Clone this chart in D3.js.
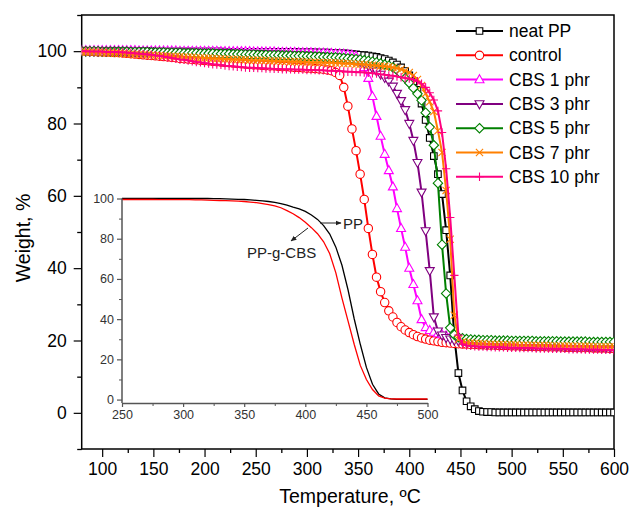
<!DOCTYPE html>
<html><head><meta charset="utf-8">
<script src="https://cdn.jsdelivr.net/npm/d3@7"></script>
<style>body{margin:0;background:#fff}svg{display:block}text{font-family:"Liberation Sans",Arial,sans-serif}</style>
</head><body><svg id="c" width="633" height="508"></svg>
<script>
// ---------- main chart data ----------
const temps = [80,84,88,92,96,100,104,108,112,116,
120,124,128,132,136,140,144,148,152,156,
160,164,168,172,176,180,184,188,192,196,
200,204,208,212,216,220,224,228,232,236,
240,244,248,252,256,260,264,268,272,276,
280,284,288,292,296,300,304,308,312,316,
320,324,328,332,336,340,344,348,352,356,
360,364,368,372,376,380,384,388,392,396,
400,404,408,412,416,420,424,428,432,436,
440,444,448,452,456,460,464,468,472,476,
480,484,488,492,496,500,504,508,512,516,
520,524,528,532,536,540,544,548,552,556,
560,564,568,572,576,580,584,588,592,596,
600];
const neatPP = [100.0,100.0,100.0,100.0,100.0,100.0,100.0,100.0,100.0,100.0,
100.0,100.0,100.0,100.0,100.0,100.0,100.0,100.0,99.9,99.9,
99.9,99.9,99.9,99.9,99.9,99.9,99.9,99.9,99.9,99.9,
99.9,99.9,99.9,99.9,99.9,99.8,99.8,99.8,99.8,99.8,
99.8,99.8,99.8,99.8,99.8,99.8,99.8,99.8,99.8,99.8,
99.8,99.8,99.8,99.7,99.7,99.7,99.7,99.7,99.6,99.6,
99.6,99.5,99.5,99.4,99.4,99.3,99.2,99.1,99.0,98.9,
98.8,98.6,98.4,98.1,97.8,97.4,96.9,96.3,95.5,94.5,
93.3,91.6,89.3,85.5,81.0,76.0,71.0,66.0,60.5,50.5,
38.0,21.0,11.0,6.2,3.2,1.8,1.0,0.5,0.3,0.2,
0.2,0.1,0.1,0.1,0.1,0.1,0.1,0.1,0.1,0.1,
0.1,0.1,0.1,0.1,0.1,0.1,0.1,0.1,0.1,0.1,
0.1,0.1,0.1,0.1,0.1,0.1,0.1,0.1,0.1,0.1,
0.1];
const control = [100.0,100.0,99.9,99.9,99.8,99.8,99.7,99.7,99.6,99.6,
99.5,99.4,99.3,99.2,99.1,99.0,98.9,98.8,98.7,98.6,
98.5,98.4,98.3,98.2,98.0,97.9,97.8,97.7,97.6,97.5,
97.4,97.3,97.2,97.1,97.0,96.9,96.8,96.7,96.6,96.5,
96.4,96.3,96.2,96.2,96.1,96.0,95.9,95.9,95.8,95.7,
95.7,95.6,95.5,95.5,95.4,95.3,95.3,95.2,95.1,95.0,
94.8,94.6,94.1,93.3,90.0,84.8,78.5,72.5,66.0,59.0,
51.0,43.8,37.5,33.5,30.5,28.2,26.5,25.0,23.8,22.9,
22.2,21.6,21.1,20.7,20.4,20.1,19.9,19.7,19.5,19.4,
19.3,19.2,19.1,19.0,19.0,18.9,18.9,18.8,18.8,18.7,
18.7,18.7,18.6,18.6,18.6,18.5,18.5,18.5,18.4,18.4,
18.4,18.3,18.3,18.3,18.2,18.2,18.2,18.2,18.1,18.1,
18.1,18.0,18.0,18.0,18.0,17.9,17.9,17.9,17.9,17.8,
17.8];
const cbs1 = [100.2,100.2,100.2,100.2,100.2,100.2,100.2,100.2,100.2,100.2,
100.2,100.2,100.2,100.2,100.1,100.1,100.1,100.1,100.1,100.1,
100.1,100.1,100.1,100.1,100.0,100.0,100.0,100.0,100.0,100.0,
100.0,100.0,100.0,100.0,99.9,99.9,99.9,99.9,99.9,99.9,
99.9,99.9,99.8,99.8,99.8,99.8,99.8,99.8,99.7,99.7,
99.7,99.7,99.7,99.6,99.6,99.6,99.6,99.5,99.5,99.5,
99.4,99.4,99.3,99.3,99.2,99.1,98.9,98.6,97.5,95.5,
92.5,87.5,82.0,76.5,71.5,67.0,62.5,56.5,51.0,45.8,
40.0,35.5,31.0,25.8,23.6,22.8,22.3,21.9,21.6,21.3,
21.0,20.7,20.4,20.1,19.9,19.7,19.5,19.4,19.3,19.2,
19.1,19.0,19.0,18.9,18.9,18.8,18.8,18.7,18.7,18.7,
18.6,18.6,18.6,18.5,18.5,18.5,18.4,18.4,18.4,18.4,
18.3,18.3,18.3,18.3,18.2,18.2,18.2,18.2,18.2,18.1,
18.1];
const cbs3 = [100.0,100.0,100.0,100.0,100.0,100.0,100.0,100.0,100.0,100.0,
100.0,100.0,99.9,99.9,99.9,99.9,99.9,99.9,99.8,99.8,
99.8,99.8,99.8,99.7,99.7,99.7,99.7,99.7,99.6,99.6,
99.6,99.6,99.6,99.5,99.5,99.5,99.5,99.4,99.4,99.4,
99.4,99.3,99.3,99.3,99.3,99.2,99.2,99.2,99.1,99.1,
99.1,99.0,99.0,98.9,98.9,98.8,98.8,98.7,98.7,98.6,
98.5,98.5,98.4,98.3,98.2,98.1,97.9,97.5,97.1,96.6,
96.0,95.3,94.5,93.6,92.7,91.7,90.3,88.3,86.3,83.8,
80.0,75.3,69.2,61.0,50.3,39.3,26.5,22.6,21.5,20.8,
20.4,20.1,19.9,19.7,19.5,19.4,19.3,19.2,19.1,19.0,
19.0,18.9,18.9,18.8,18.8,18.7,18.7,18.6,18.6,18.6,
18.5,18.5,18.5,18.4,18.4,18.4,18.3,18.3,18.3,18.3,
18.2,18.2,18.2,18.2,18.1,18.1,18.1,18.1,18.0,18.0,
18.0];
const cbs5 = [100.0,100.0,100.0,100.0,100.0,99.9,99.9,99.9,99.9,99.9,
99.9,99.9,99.8,99.8,99.8,99.8,99.8,99.7,99.7,99.7,
99.7,99.6,99.6,99.6,99.6,99.5,99.5,99.5,99.5,99.4,
99.4,99.4,99.4,99.3,99.3,99.3,99.3,99.2,99.2,99.2,
99.1,99.1,99.1,99.0,99.0,99.0,98.9,98.9,98.9,98.8,
98.8,98.8,98.7,98.7,98.7,98.6,98.6,98.5,98.5,98.4,
98.4,98.3,98.3,98.2,98.1,98.0,97.9,97.8,97.7,97.5,
97.3,97.1,96.9,96.6,96.3,96.0,95.5,94.8,93.8,92.5,
91.2,89.8,88.2,86.4,83.0,79.0,74.0,63.5,46.5,33.0,
23.5,21.6,20.9,20.6,20.4,20.3,20.2,20.2,20.1,20.1,
20.1,20.0,20.0,20.0,20.0,19.9,19.9,19.9,19.9,19.9,
19.9,19.8,19.8,19.8,19.8,19.8,19.8,19.7,19.7,19.7,
19.7,19.7,19.7,19.7,19.6,19.6,19.6,19.6,19.6,19.6,
19.6];
const cbs7 = [99.8,99.8,99.7,99.7,99.6,99.6,99.5,99.5,99.4,99.4,
99.3,99.3,99.2,99.1,99.1,99.0,99.0,98.9,98.8,98.8,
98.7,98.7,98.6,98.5,98.5,98.4,98.4,98.3,98.2,98.2,
98.1,98.1,98.0,97.9,97.9,97.8,97.8,97.7,97.7,97.6,
97.6,97.5,97.5,97.5,97.4,97.4,97.3,97.3,97.3,97.2,
97.2,97.1,97.1,97.1,97.0,97.0,96.9,96.9,96.9,96.8,
96.8,96.8,96.7,96.7,96.6,96.6,96.5,96.4,96.4,96.3,
96.2,96.1,96.0,95.9,95.8,95.7,95.5,95.3,95.0,94.6,
94.1,93.3,92.2,90.5,88.3,86.0,83.3,78.0,72.0,61.5,
48.0,27.0,20.3,19.6,19.4,19.3,19.2,19.1,19.1,19.0,
19.0,18.9,18.9,18.9,18.8,18.8,18.8,18.7,18.7,18.7,
18.7,18.6,18.6,18.6,18.6,18.5,18.5,18.5,18.5,18.5,
18.4,18.4,18.4,18.4,18.4,18.3,18.3,18.3,18.3,18.3,
18.3];
const cbs10 = [100.0,100.0,99.9,99.9,99.9,99.9,99.8,99.8,99.8,99.7,
99.7,99.6,99.5,99.4,99.3,99.2,99.1,99.0,98.8,98.7,
98.5,98.3,98.1,97.9,97.7,97.6,97.4,97.2,97.0,96.9,
96.7,96.6,96.4,96.3,96.2,96.0,95.9,95.8,95.7,95.6,
95.5,95.4,95.4,95.3,95.3,95.2,95.2,95.1,95.1,95.0,
95.0,95.0,94.9,94.9,94.9,94.8,94.8,94.8,94.7,94.7,
94.6,94.6,94.5,94.5,94.4,94.3,94.3,94.2,94.2,94.1,
94.0,93.9,93.8,93.6,93.5,93.3,93.2,93.0,92.8,92.6,
92.4,92.1,91.7,91.0,90.0,88.5,86.5,83.5,77.5,67.5,
54.0,38.0,21.5,19.0,18.6,18.5,18.4,18.3,18.3,18.2,
18.2,18.1,18.1,18.1,18.0,18.0,18.0,17.9,17.9,17.9,
17.9,17.8,17.8,17.8,17.8,17.7,17.7,17.7,17.7,17.6,
17.6,17.6,17.6,17.5,17.5,17.5,17.5,17.4,17.4,17.4,
17.3];
const seriesNames = ["neat PP","control","CBS 1 phr","CBS 3 phr","CBS 5 phr","CBS 7 phr","CBS 10 phr"];
const seriesColors = ["#000000","#ff0000","#ff00ff","#800080","#008000","#ff8000","#ff0080"];
const seriesShapes = ["square","circle","up","down","diamond","times","plus"];
const seriesValues = [neatPP, control, cbs1, cbs3, cbs5, cbs7, cbs10];
const xTicks = [100,150,200,250,300,350,400,450,500,550,600];
const yTicks = [0,20,40,60,80,100];

// ---------- inset data ----------
const insetTemps = [250,255,260,265,270,275,280,285,290,295,300,305,310,315,320,
325,330,335,340,345,350,355,360,365,370,375,380,385,390,395,400,405,410,415,420,
425,430,435,440,445,450,455,460,465,470,475,480,485,490,495,500];
const insetPP = [100.0,100.0,100.0,100.0,100.0,100.0,100.0,100.0,100.0,100.0,100.0,100.0,100.0,100.0,100.0,
99.9,99.9,99.8,99.7,99.6,99.5,99.3,99.1,98.8,98.5,98.1,97.5,96.7,95.7,94.8,93.6,91.8,89.6,86.5,82.3,
75.8,66.8,54.5,40.2,27.5,16.0,7.6,2.8,0.9,0.3,0.1,0.1,0.1,0.1,0.1,0.1];
const insetPPgCBS = [99.5,99.5,99.5,99.5,99.5,99.5,99.4,99.4,99.4,99.4,99.4,99.4,99.3,99.3,99.2,
99.1,99.0,98.9,98.8,98.7,98.5,98.2,97.9,97.5,97.0,96.3,95.4,94.0,92.4,90.5,88.2,85.5,82.5,78.5,72.5,
63.0,50.5,39.0,27.5,17.0,10.0,5.0,1.8,0.7,0.4,0.3,0.3,0.3,0.3,0.3,0.3];
const insetXTicks = [250,300,350,400,450,500];
const insetYTicks = [0,20,40,60,80,100];

// ---------- drawing ----------
const svg = d3.select("#c");
const FONT = '"Liberation Sans",Arial,sans-serif';
const L = 81.7, R = 614, T = 15, B = 449;
const x = d3.scaleLinear().domain([80, 600]).range([L, R]);
const y = d3.scaleLinear().domain([-10, 110]).range([B, T]);

// inset
const ix = d3.scaleLinear().domain([250, 500]).range([122, 427.5]);
const iy = d3.scaleLinear().domain([-1.7, 100]).range([403, 198.5]);
const ig = svg.append("g");
const inLine = d3.line().x(d => ix(d[0])).y(d => iy(d[1]));
ig.append("path").datum(insetTemps.map((t, i) => [t, insetPP[i]]))
  .attr("d", inLine).attr("fill", "none").attr("stroke", "#000").attr("stroke-width", 1.3);
ig.append("path").datum(insetTemps.map((t, i) => [t, insetPPgCBS[i]]))
  .attr("d", inLine).attr("fill", "none").attr("stroke", "#ff0000").attr("stroke-width", 1.3);

function styleAxis(g, color, fs) {
  g.select(".domain").attr("stroke", color).attr("stroke-width", 1.5);
  g.selectAll(".tick line").attr("stroke", color).attr("stroke-width", 1.2);
  g.selectAll(".tick text").attr("fill", color === "#000" ? "#000" : "#333")
    .style("font-family", FONT).style("font-size", fs + "px");
}
// inset axes
const ixMinor = ig.append("g").attr("transform", "translate(0,403)")
  .call(d3.axisBottom(ix).tickValues([275,325,375,425,475]).tickSize(3).tickFormat(""));
ixMinor.select(".domain").remove();
ixMinor.selectAll("line").attr("stroke", "#555");
const ixAx = ig.append("g").attr("transform", "translate(0,403)")
  .call(d3.axisBottom(ix).tickValues(insetXTicks).tickSize(4).tickPadding(3).tickSizeOuter(0));
styleAxis(ixAx, "#555", 12.5);
const iyMinor = ig.append("g").attr("transform", "translate(122,0)")
  .call(d3.axisLeft(iy).tickValues([10,30,50,70,90]).tickSize(3).tickFormat(""));
iyMinor.select(".domain").remove();
iyMinor.selectAll("line").attr("stroke", "#555");
const iyAx = ig.append("g").attr("transform", "translate(122,0)")
  .call(d3.axisLeft(iy).tickValues(insetYTicks).tickSize(5).tickPadding(3).tickSizeOuter(0));
styleAxis(iyAx, "#555", 12.5);
iyAx.select(".domain").attr("d", `M0,${iy(100)}V403`);

// annotations
const defs = svg.append("defs");
defs.append("marker").attr("id", "ah").attr("viewBox", "0 0 10 10").attr("refX", 9).attr("refY", 5)
  .attr("markerWidth", 6).attr("markerHeight", 6).attr("orient", "auto")
  .append("path").attr("d", "M0,1L10,5L0,9Z").attr("fill", "#222");
ig.append("line").attr("x1", 320).attr("y1", 223).attr("x2", 341).attr("y2", 223)
  .attr("stroke", "#222").attr("stroke-width", 1).attr("marker-end", "url(#ah)");
ig.append("text").attr("x", 343).attr("y", 229).text("PP")
  .style("font-size", "15px").attr("fill", "#222");
ig.append("line").attr("x1", 308).attr("y1", 228).attr("x2", 291).attr("y2", 241)
  .attr("stroke", "#222").attr("stroke-width", 1).attr("marker-end", "url(#ah)");
ig.append("text").attr("x", 247).attr("y", 258).text("PP-g-CBS")
  .style("font-size", "15px").attr("fill", "#222");

// main axes
const xMinor = svg.append("g").attr("transform", `translate(0,${B})`)
  .call(d3.axisBottom(x).tickValues([125,175,225,275,325,375,425,475,525,575]).tickSize(4).tickFormat(""));
xMinor.select(".domain").remove();
xMinor.selectAll("line").attr("stroke", "#000").attr("stroke-width", 1.3);
const xAx = svg.append("g").attr("transform", `translate(0,${B})`)
  .call(d3.axisBottom(x).tickValues(xTicks).tickSize(8).tickPadding(6));
xAx.select(".domain").remove();
styleAxis(xAx, "#000", 17.5);
const yMinor = svg.append("g").attr("transform", `translate(${L},0)`)
  .call(d3.axisLeft(y).tickValues([-10,10,30,50,70,90,110]).tickSize(4.5).tickFormat(""));
yMinor.select(".domain").remove();
yMinor.selectAll("line").attr("stroke", "#000").attr("stroke-width", 1.3);
const yAx = svg.append("g").attr("transform", `translate(${L},0)`)
  .call(d3.axisLeft(y).tickValues(yTicks).tickSize(8).tickPadding(7));
yAx.select(".domain").remove();
styleAxis(yAx, "#000", 17.5);

svg.append("rect").attr("x", L).attr("y", T).attr("width", R - L).attr("height", B - T)
  .attr("fill", "none").attr("stroke", "#000").attr("stroke-width", 1.5);

svg.append("text").attr("x", 350).attr("y", 503).attr("text-anchor", "middle")
  .style("font-size", "19.5px").text("Temperature, ºC");
svg.append("text").attr("transform", "translate(30,238) rotate(-90)").attr("text-anchor", "middle")
  .style("font-size", "19.5px").text("Weight, %");

// symbols
function sym(shape) {
  switch (shape) {
    case "square": return "M-3.3,-3.3H3.3V3.3H-3.3Z";
    case "circle": return "M4.2,0A4.2,4.2 0 1,1 -4.2,0A4.2,4.2 0 1,1 4.2,0Z";
    case "up": return "M0,-4.9L4.5,3.1L-4.5,3.1Z";
    case "down": return "M0,4.9L4.5,-3.1L-4.5,-3.1Z";
    case "diamond": return "M0,-4.7L4.7,0L0,4.7L-4.7,0Z";
    case "times": return "M-3.6,-3.6L3.6,3.6M-3.6,3.6L3.6,-3.6";
    case "plus": return "M-4.2,0H4.2M0,-4.2V4.2";
  }
}
const line = d3.line().x(d => x(d[0])).y(d => y(d[1]));
const clip = defs.append("clipPath").attr("id", "pc");
clip.append("rect").attr("x", L).attr("y", T).attr("width", R - L).attr("height", B - T);
const plot = svg.append("g").attr("clip-path", "url(#pc)");
seriesValues.forEach((vals, si) => {
  const pts = temps.map((t, i) => [t, vals[i]]);
  const g = plot.append("g");
  g.append("path").datum(pts).attr("d", line).attr("fill", "none")
    .attr("stroke", seriesColors[si]).attr("stroke-width", 2);
  const hollow = seriesShapes[si] !== "times" && seriesShapes[si] !== "plus";
  g.selectAll("path.m").data(pts).enter().append("path").attr("class", "m")
    .attr("transform", d => `translate(${x(d[0])},${y(d[1])})`)
    .attr("d", sym(seriesShapes[si]))
    .attr("fill", hollow ? "#fff" : "none")
    .attr("stroke", seriesColors[si]).attr("stroke-width", 1.1);
});

// legend
const lg = svg.append("g");
seriesNames.forEach((n, i) => {
  const yy = 31 + i * 24.3;
  lg.append("line").attr("x1", 456).attr("x2", 503).attr("y1", yy).attr("y2", yy)
    .attr("stroke", seriesColors[i]).attr("stroke-width", 2);
  lg.append("path").attr("transform", `translate(479.5,${yy})`).attr("d", sym(seriesShapes[i]))
    .attr("fill", (seriesShapes[i] === "times" || seriesShapes[i] === "plus") ? "none" : "#fff")
    .attr("stroke", seriesColors[i]).attr("stroke-width", 1.1);
  lg.append("text").attr("x", 509).attr("y", yy + 6).style("font-size", "17.5px").text(n);
});
</script>
</body></html>
